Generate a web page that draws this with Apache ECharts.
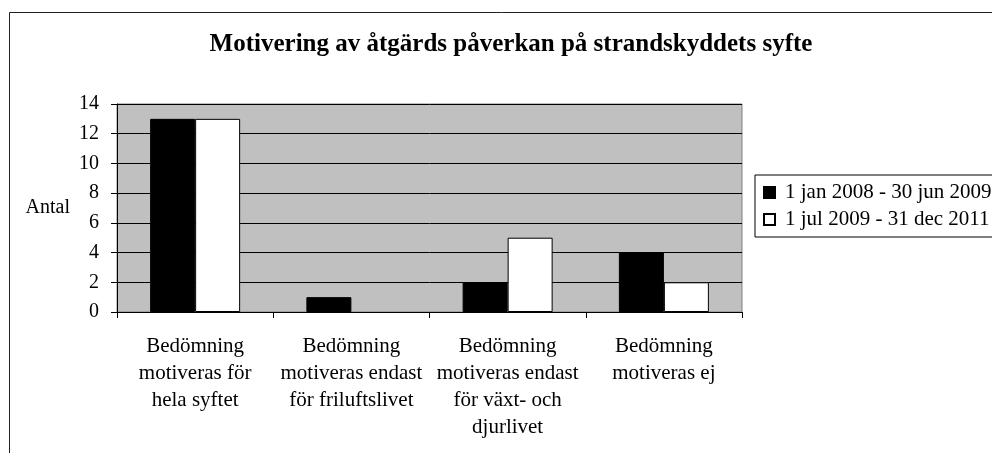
<!DOCTYPE html>
<html>
<head>
<meta charset="utf-8">
<script src="https://cdn.jsdelivr.net/npm/echarts@6/dist/echarts.min.js"></script>
<style>
html,body{margin:0;padding:0;background:#fff;}
#chart{width:992px;height:453px;}
</style>
</head>
<body>
<div id="chart"></div>
<script>
const categories = [
  'Bedömning\nmotiveras för\nhela syftet',
  'Bedömning\nmotiveras endast\nför friluftslivet',
  'Bedömning\nmotiveras endast\nför växt- och\ndjurlivet',
  'Bedömning\nmotiveras ej'
];
const seriesNames = ['1 jan 2008 - 30 jun 2009', '1 jul 2009 - 31 dec 2011'];
const period1 = [13, 1, 2, 4];
const period2 = [13, 0, 5, 2];
const yTicks = { min: 0, max: 14, interval: 2 };

const FONT = "'Liberation Serif', 'Times New Roman', serif";
const noZero = arr => arr.map(v => v === 0 ? { value: v, itemStyle: { borderWidth: 0, opacity: 0 } } : v);

const chart = echarts.init(document.getElementById('chart'));
chart.setOption({
  animation: false,
  backgroundColor: '#fff',
  textStyle: { fontFamily: FONT, color: '#000' },
  graphic: [{
    type: 'rect',
    shape: { x: 9.5, y: 12.5, width: 1200, height: 1000 },
    style: { fill: 'none', stroke: '#222', lineWidth: 1 },
    silent: true, z: -10
  }],
  title: {
    text: 'Motivering av åtgärds påverkan på strandskyddets syfte',
    left: 506, textAlign: 'center', top: 27,
    textStyle: { fontFamily: FONT, fontSize: 25, fontWeight: 'bold', color: '#000' }
  },
  legend: {
    orient: 'vertical',
    left: 755, top: 175,
    padding: [7, 30, 7, 8],
    itemGap: 6,
    itemWidth: 11, itemHeight: 11,
    icon: 'rect',
    borderColor: '#000', borderWidth: 1,
    textStyle: { fontFamily: FONT, fontSize: 21, color: '#000', padding: [0, 0, 0, 5] },
    data: seriesNames
  },
  grid: {
    left: 117, right: 250, top: 104, bottom: 141,
    show: true, backgroundColor: '#c0c0c0', borderColor: '#808080', borderWidth: 1
  },
  xAxis: {
    type: 'category',
    data: categories,
    axisLine: { lineStyle: { color: '#000' } },
    axisTick: { show: true, length: 6, lineStyle: { color: '#000' } },
    axisLabel: { interval: 0, margin: 21, fontFamily: FONT, fontSize: 21, lineHeight: 27, color: '#000' }
  },
  yAxis: {
    type: 'value',
    min: yTicks.min, max: yTicks.max, interval: yTicks.interval,
    name: 'Antal', nameLocation: 'middle', nameRotate: 0, nameGap: 47,
    nameTextStyle: { fontFamily: FONT, fontSize: 20, color: '#000', align: 'right' },
    axisLine: { show: true, lineStyle: { color: '#000' } },
    axisTick: { show: true, length: 6, lineStyle: { color: '#000' } },
    axisLabel: { margin: 18, fontFamily: FONT, fontSize: 20, color: '#000' },
    splitLine: { lineStyle: { color: '#000', width: 1 } }
  },
  series: [
    {
      name: seriesNames[0], type: 'bar', data: noZero(period1),
      barWidth: 45, barGap: '0%',
      itemStyle: { color: '#000', borderColor: '#000', borderWidth: 1 }
    },
    {
      name: seriesNames[1], type: 'bar', data: noZero(period2),
      barWidth: 45, barGap: '0%',
      itemStyle: { color: '#fff', borderColor: '#000', borderWidth: 1 }
    }
  ]
});
</script>
</body>
</html>
